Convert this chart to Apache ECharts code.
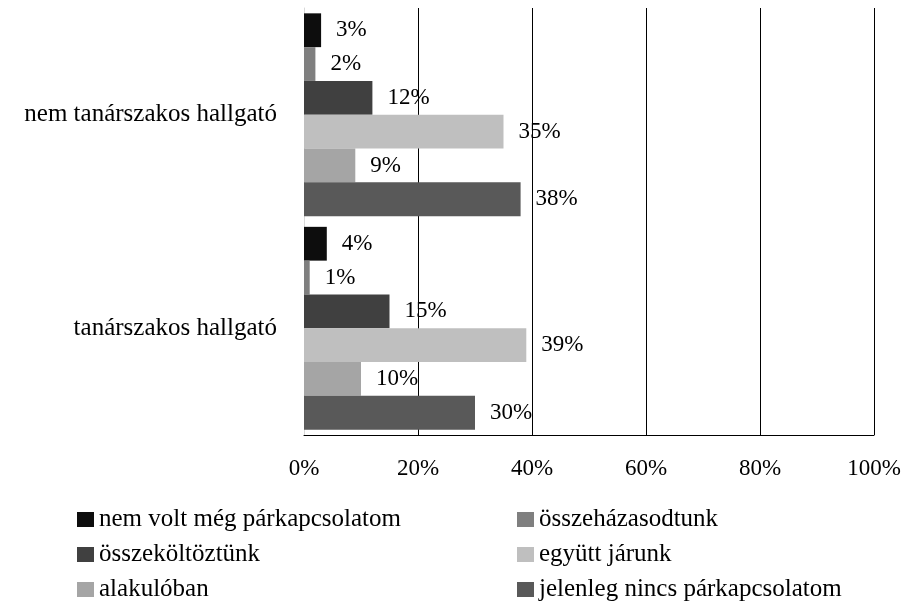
<!DOCTYPE html>
<html>
<head>
<meta charset="utf-8">
<script src="https://cdn.jsdelivr.net/npm/echarts@6/dist/echarts.min.js"></script>
<style>
  html, body { margin: 0; padding: 0; background: #fff; }
  #chart { width: 904px; height: 602px; }
</style>
</head>
<body>
<div id="chart"></div>
<script>
var categories = ['nem tanárszakos hallgató', 'tanárszakos hallgató'];
var seriesNames = [
  'nem volt még párkapcsolatom',
  'összeházasodtunk',
  'összeköltöztünk',
  'együtt járunk',
  'alakulóban',
  'jelenleg nincs párkapcsolatom'
];
var seriesValues = [
  [3, 4],
  [2, 1],
  [12, 15],
  [35, 39],
  [9, 10],
  [38, 30]
];
var colors = ['#0d0d0d', '#7f7f7f', '#404040', '#bfbfbf', '#a5a5a5', '#595959'];

var font = '"Liberation Serif", "DejaVu Serif", serif';

var chart = echarts.init(document.getElementById('chart'));

var series = seriesNames.map(function (name, i) {
  return {
    name: name,
    type: 'bar',
    data: seriesValues[i],
    barGap: 0,
    barCategoryGap: '5%',
    itemStyle: { color: colors[i] },
    label: {
      show: true,
      position: 'right',
      distance: 15,
      formatter: '{c}%',
      color: '#000',
      fontFamily: font,
      fontSize: 23
    }
  };
});

chart.setOption({
  animation: false,
  color: colors,
  grid: { left: 304, right: 30, top: 8, bottom: 167, containLabel: false },
  xAxis: {
    type: 'value',
    min: 0,
    max: 100,
    interval: 20,
    axisLine: { show: true, lineStyle: { color: '#000', width: 1 } },
    axisTick: { show: false },
    axisLabel: {
      formatter: '{value}%',
      color: '#000',
      fontFamily: font,
      fontSize: 23,
      margin: 22
    },
    splitLine: {
      show: true,
      lineStyle: { color: ['rgba(0,0,0,0)', '#000', '#000', '#000', '#000', '#000'], width: 1 }
    }
  },
  yAxis: {
    type: 'category',
    inverse: true,
    data: categories,
    axisLine: { show: true, lineStyle: { color: '#d9d9d9', width: 1 } },
    axisTick: { show: false },
    axisLabel: {
      color: '#000',
      fontFamily: font,
      fontSize: 25,
      margin: 27
    }
  },
  legend: [
    {
      orient: 'vertical',
      left: 72,
      top: 502,
      width: 400,
      height: 110,
      itemWidth: 17,
      itemHeight: 15,
      itemGap: 10,
      icon: 'rect',
      data: [seriesNames[0], seriesNames[2], seriesNames[4]],
      textStyle: { color: '#000', fontFamily: font, fontSize: 25 }
    },
    {
      orient: 'vertical',
      left: 512,
      top: 502,
      width: 390,
      height: 110,
      itemWidth: 17,
      itemHeight: 15,
      itemGap: 10,
      icon: 'rect',
      data: [seriesNames[1], seriesNames[3], seriesNames[5]],
      textStyle: { color: '#000', fontFamily: font, fontSize: 25 }
    }
  ],
  series: series
});
</script>
</body>
</html>
